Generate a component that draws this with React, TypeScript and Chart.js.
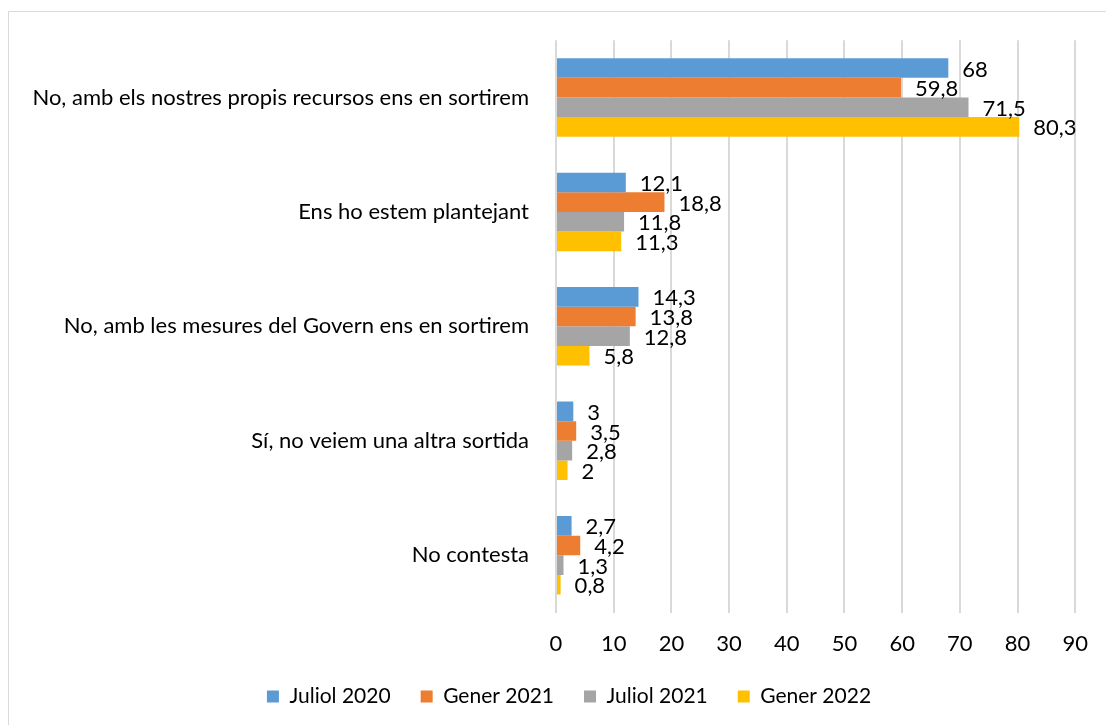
import React, { useEffect, useRef } from "react";
import { Chart, registerables } from "chart.js";

Chart.register(...registerables);

const categories = [
  "No, amb els nostres propis recursos ens en sortirem",
  "Ens ho estem plantejant",
  "No, amb les mesures del Govern ens en sortirem",
  "Sí, no veiem una altra sortida",
  "No contesta",
];
const seriesNames = ["Juliol 2020", "Gener 2021", "Juliol 2021", "Gener 2022"];
const juliol2020 = [68, 12.1, 14.3, 3, 2.7];
const gener2021 = [59.8, 18.8, 13.8, 3.5, 4.2];
const juliol2021 = [71.5, 11.8, 12.8, 2.8, 1.3];
const gener2022 = [80.3, 11.3, 5.8, 2, 0.8];
const seriesColors = ["#5B9BD5", "#ED7D31", "#A5A5A5", "#FFC000"];
const xMin = 0;
const xMax = 90;
const xStep = 10;

const FONT = "Lato";
const FONT_SIZE = 22;
const LEGEND_LEFT = 59;

const framePlugin = {
  id: "frame",
  beforeDraw(chart: any) {
    const ctx = chart.ctx;
    ctx.save();
    ctx.fillStyle = "#ffffff";
    ctx.fillRect(0, 0, chart.width, chart.height);
    ctx.strokeStyle = "#d9d9d9";
    ctx.lineWidth = 1;
    ctx.beginPath();
    ctx.moveTo(8.5, chart.height);
    ctx.lineTo(8.5, 11.5);
    ctx.lineTo(chart.width, 11.5);
    ctx.stroke();
    ctx.restore();
    if (chart.legend) chart.legend.left = LEGEND_LEFT;
  },
};

const labelPlugin = {
  id: "valueLabels",
  afterDatasetsDraw(chart: any) {
    const ctx = chart.ctx;
    ctx.save();
    ctx.font = `${FONT_SIZE}px ${FONT}`;
    ctx.fillStyle = "#000000";
    ctx.textAlign = "left";
    ctx.textBaseline = "middle";
    chart.data.datasets.forEach((ds: any, i: number) => {
      const meta = chart.getDatasetMeta(i);
      meta.data.forEach((el: any, j: number) => {
        const v = ds.data[j];
        const txt = String(v).replace(".", ",");
        ctx.fillText(txt, el.x + 14, el.y + 1.5);
      });
    });
    ctx.restore();
  },
};

export default function App() {
  const ref = useRef<HTMLCanvasElement | null>(null);
  useEffect(() => {
    const seriesValues = [juliol2020, gener2021, juliol2021, gener2022];
    const chart = new Chart(ref.current as HTMLCanvasElement, {
      type: "bar",
      data: {
        labels: categories,
        datasets: seriesNames.map((name, i) => ({
          label: name,
          data: seriesValues[i],
          backgroundColor: seriesColors[i],
          borderWidth: 0,
          categoryPercentage: 0.686,
          barPercentage: 1,
        })),
      },
      options: {
        indexAxis: "y",
        responsive: false,
        animation: false,
        layout: { padding: { left: 0, right: 27, top: 40, bottom: 8 } },
        scales: {
          x: {
            min: xMin,
            max: xMax,
            ticks: {
              stepSize: xStep,
              color: "#000000",
              font: { family: FONT, size: FONT_SIZE },
              padding: 18,
            },
            grid: { color: "#d9d9d9", lineWidth: 2, drawTicks: false },
            border: { display: false },
            afterFit(scale: any) {
              scale.height = 43.5;
            },
          },
          y: {
            ticks: {
              color: "#000000",
              font: { family: FONT, size: FONT_SIZE },
              padding: 27,
            },
            grid: { display: false, drawTicks: false },
            border: { display: false },
            afterFit(scale: any) {
              scale.width = 556;
            },
          },
        },
        plugins: {
          legend: {
            position: "bottom",
            labels: {
              boxWidth: 12,
              boxHeight: 12,
              padding: 30,
              color: "#000000",
              font: { family: FONT, size: 21 },
            },
          },
          tooltip: { enabled: false },
        },
      },
      plugins: [framePlugin, labelPlugin],
    } as any);
    return () => chart.destroy();
  }, []);
  return (
    <div style={{ position: "fixed", left: 0, top: 0, width: 1106, height: 725, background: "#fff" }}>
      <canvas ref={ref} width={1106} height={725} style={{ display: "block" }} />
    </div>
  );
}
